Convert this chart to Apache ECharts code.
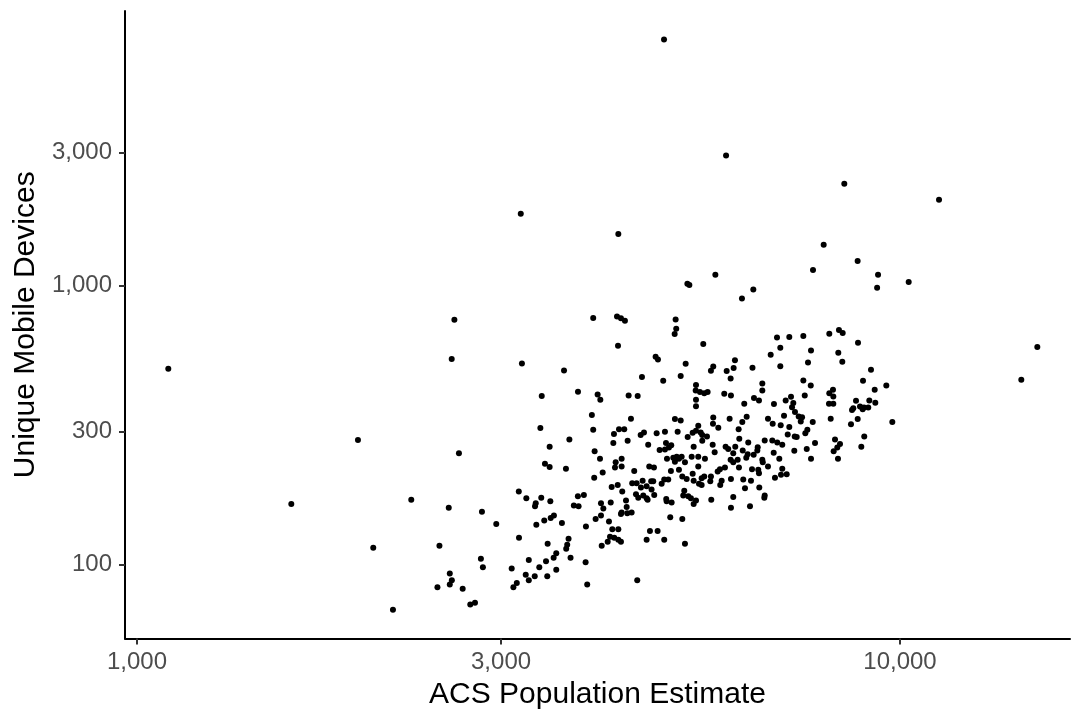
<!DOCTYPE html>
<html><head><meta charset="utf-8">
<script src="https://cdn.jsdelivr.net/npm/echarts@6/dist/echarts.min.js"></script>
<style>html,body{margin:0;padding:0;background:#fff}#c{width:1074px;height:715px}</style>
</head><body><div id="c"></div>
<script>
const population = [
3184,4906,5916,8453,11250,4274,7943,8800,7691,9359,9333,10266,5264,5296,5728,6423,6207,15135,14421,1099,
1948,1593,2288,2040,2165,2606,2585,3195,3628,3784,3392,3378,3687,3474,2642,3962,4257,4308,4360,5081,
5090,5066,4270,5523,4783,4817,5237,6077,5692,5652,5927,6053,6407,5998,4590,4894,5159,5403,5398,5468,
5539,5596,5403,5403,4015,4048,4409,4531,5884,6004,6436,6250,3946,4440,5070,5159,5692,5687,5779,5980,
6296,6213,3962,4283,4351,4218,4572,4618,4396,4210,4798,4920,5112,5269,5440,5349,5403,5480,5506,5585,
5506,5365,6145,6157,6326,5682,5908,5955,6083,4677,4935,5014,4979,4920,4841,3979,5716,6221,6315,6046,
6430,6899,7160,7470,8079,8318,8412,8810,6968,6769,7645,8301,7576,8402,6968,9162,7470,7639,8944,9596,
9265,6600,6600,8169,8079,8177,8071,8177,7502,6534,7082,7197,7247,7219,7284,7366,7441,7412,6836,8757,
9116,9282,8652,8686,8863,8971,8935,9087,6714,7047,6810,6977,7160,7685,8113,8802,8625,9771,7561,7515,
7126,7278,7322,8978,6648,6802,6905,7010,7738,8219,8344,8276,8186,8898,6509,6501,7547,7269,6831,6600,
6609,6947,7645,8293,6398,6520,6534,6714,7010,6983,7104,6857,6378,6540,6648,6640,6359,3425,3474,3649,
3165,3238,3331,3324,3387,3481,3783,3852,3737,3791,2562,2832,2957,3337,3418,3485,3519,3605,3876,3167,
3678,3663,3652,3453,2491,2823,2840,3262,3544,3516,3700,3436,3367,3098,3872,3544,2570,2586,2570,2476,
2672,3232,3321,3262,3449,3146,3114,3891,2734,2773,4044,4240,4317,4231,4317,4077,3974,4484,4692,4759,
4950,5045,5097,5070,5132,5174,5226,5333,5440,5551,5440,5009,5132,5184,5253,5349,5365,5496,5539,5452,
5496,5652,5641,5768,5808,5896,5998,6046,6127,6288,6151,6004,5838,5813,6231,6264,6046,6004,5658,4189,
4266,4325,4457,4517,4599,4576,4655,4720,4749,4725,4508,4539,4608,4655,4669,4763,4871,4909,4969,4939,
4945,5020,5199,5215,5278,5321,5403,5365,4056,4085,4056,4177,4374,4383,4308,4317,4391,4449,3991,4155,
4999,5184,4197,4274,4168,4139,4222,4274,4308,4065,4702,4812,4655,4909,5226,4525
];
const devices = [
1811,7636,2931,2320,2033,1532,1403,1226,1138,1095,984,1031,1016,1006,1095,970,901,603,460,504,
280,165,171,115,69,755,546,527,497,417,403,309,281,265,251,766,776,765,749,757,
701,671,609,618,557,544,525,541,514,496,495,507,508,465,471,457,475,441,421,416,
412,416,390,370,408,390,404,403,410,404,396,378,344,334,333,329,337,320,310,334,
339,325,305,306,306,294,292,298,278,273,296,300,300,287,315,297,302,298,292,288,
278,265,306,283,274,269,265,260,265,269,273,268,263,259,258,255,253,257,249,251,
248,652,655,660,673,694,677,625,599,566,586,575,531,534,515,500,458,439,457,439,
424,446,421,424,412,401,378,378,404,388,388,400,380,367,353,340,338,326,377,387,
388,381,359,364,369,366,361,366,334,342,320,316,312,325,334,333,319,325,305,296,
293,288,287,288,279,279,274,269,273,281,271,263,255,265,264,257,260,256,252,238,
233,240,240,240,220,219,213,225,221,210,211,205,200,189,177,174,162,230,224,221,
183,173,166,162,174,169,176,178,163,162,160,155,140,139,144,147,150,141,137,125,
124,118,114,119,117,105,98,104,110,106,106,103,98,97,102,96,93,88,85,83,
82,92,91,88,91,86,83,85,72,73,240,233,240,223,225,214,205,217,225,223,
240,242,244,234,240,244,233,244,244,240,225,217,219,207,203,212,200,204,207,195,
193,207,199,216,220,223,238,233,238,242,223,203,200,193,202,188,175,160,171,190,
193,183,196,196,200,189,191,199,199,186,179,174,177,173,171,178,195,202,202,172,
169,167,177,184,176,173,170,165,166,159,150,167,170,161,152,154,153,154,146,143,
148,146,134,134,126,121,125,123,121,117,132,132,123,123,119,88
];
const xTicks = [1000, 3000, 10000];
const yTicks = [100, 300, 1000, 3000];
const xRange = [964.4, 16704];
const yRange = [54.4, 9660];
const xTitle = 'ACS Population Estimate';
const yTitle = 'Unique Mobile Devices';

const fmt = v => Math.round(Math.pow(10, v)).toLocaleString('en-US');
const FONT = '"Liberation Sans", Arial, Helvetica, sans-serif';
const axisCommon = {
  axisLine: {show: true, onZero: false, lineStyle: {color: '#000', width: 2}},
  axisTick: {show: true, length: 6, lineStyle: {color: '#333', width: 2}},
  axisLabel: {color: '#4d4d4d', fontSize: 24, fontFamily: FONT, margin: 12, formatter: fmt},
  splitLine: {show: false},
  nameLocation: 'middle',
  nameTextStyle: {color: '#000', fontSize: 30, fontFamily: FONT}
};
const chart = echarts.init(document.getElementById('c'), null, {renderer: 'canvas'});
chart.setOption({
  animation: false,
  backgroundColor: '#fff',
  grid: {left: 125, right: 4, top: 11, bottom: 76.5, containLabel: false, outerBoundsMode: 'none'},
  xAxis: [
    {type: 'log', logBase: 10, min: xRange[0], max: xRange[1], show: false, position: 'top',
     axisLine: {onZero: false}, splitLine: {show: false}},
    Object.assign({}, axisCommon, {
      type: 'value', position: 'bottom',
      min: Math.log10(xRange[0]), max: Math.log10(xRange[1]),
      axisTick: Object.assign({}, axisCommon.axisTick, {customValues: xTicks.map(Math.log10)}),
      axisLabel: Object.assign({}, axisCommon.axisLabel, {customValues: xTicks.map(Math.log10)}),
      name: xTitle, nameGap: 41
    })
  ],
  yAxis: [
    {type: 'log', logBase: 10, min: yRange[0], max: yRange[1], show: false, position: 'right',
     axisLine: {onZero: false}, splitLine: {show: false}},
    Object.assign({}, axisCommon, {
      type: 'value', position: 'left',
      min: Math.log10(yRange[0]), max: Math.log10(yRange[1]),
      axisTick: Object.assign({}, axisCommon.axisTick, {customValues: yTicks.map(Math.log10)}),
      axisLabel: Object.assign({}, axisCommon.axisLabel, {customValues: yTicks.map(Math.log10), margin: 13}),
      name: yTitle, nameGap: 80, nameRotate: 90
    })
  ],
  series: [{
    type: 'scatter', xAxisIndex: 0, yAxisIndex: 0,
    data: population.map((p, i) => [p, devices[i]]),
    symbol: 'circle', symbolSize: 6,
    itemStyle: {color: '#000', opacity: 1},
    silent: true
  }]
});
</script>
</body></html>
